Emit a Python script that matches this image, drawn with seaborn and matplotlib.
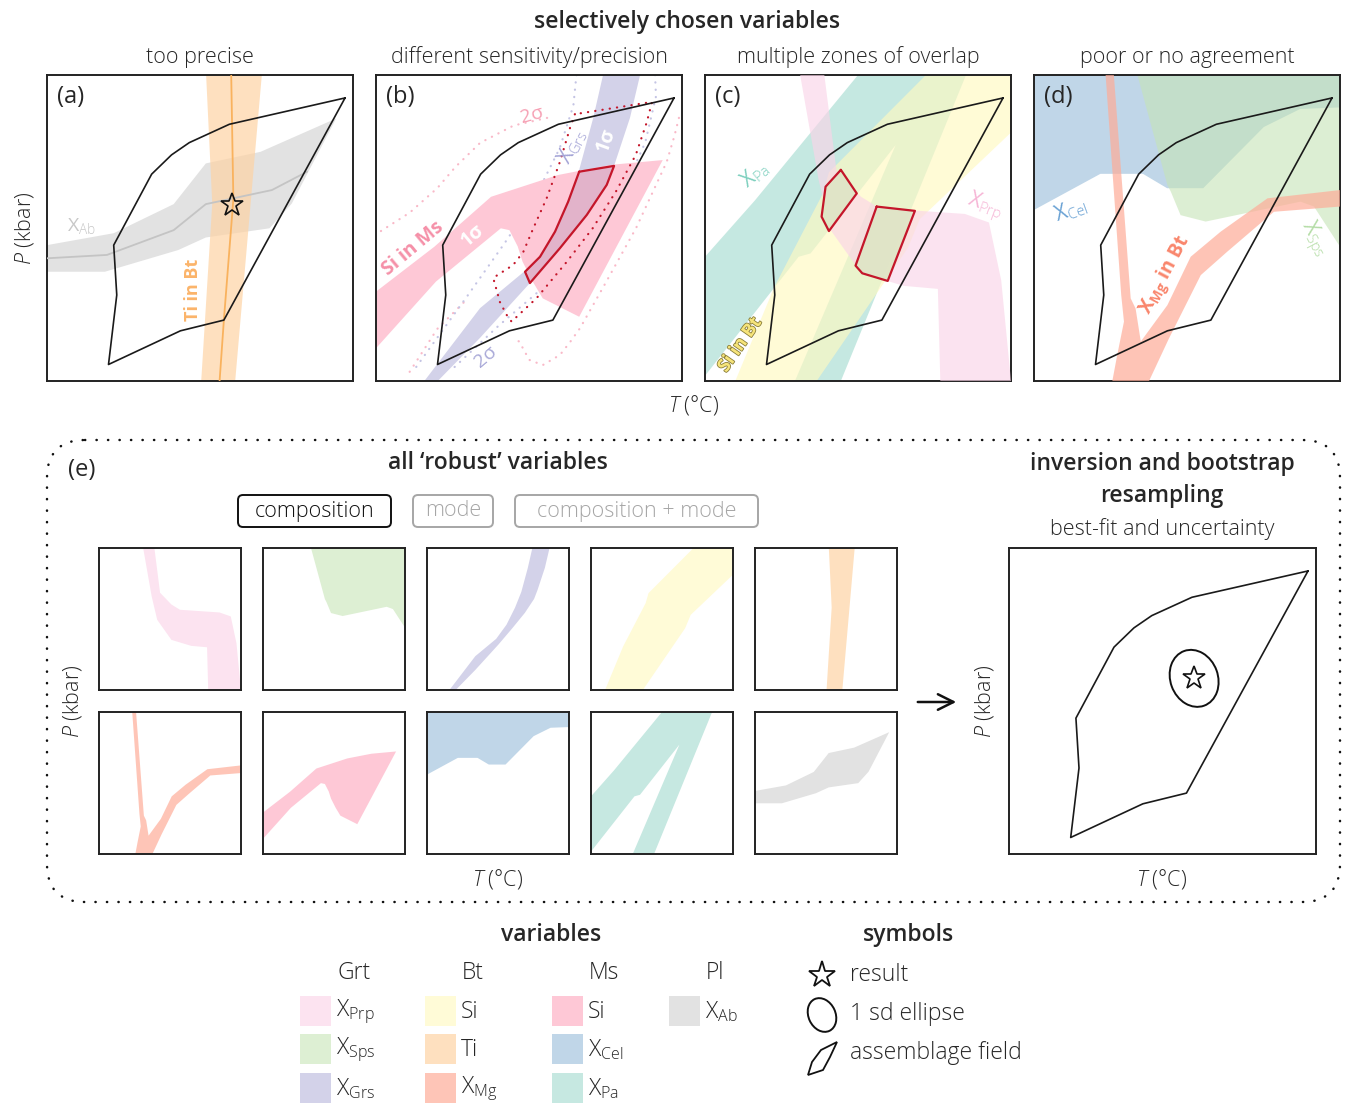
import matplotlib
matplotlib.use("Agg")
import matplotlib.pyplot as plt
import matplotlib.patheffects as pe
from matplotlib.colors import to_rgb
from matplotlib.patches import FancyBboxPatch, Ellipse, Rectangle
import seaborn as sns

sns.set_theme(style="white")
plt.rcParams["font.family"] = ["Open Sans", "DejaVu Sans"]
plt.rcParams["font.weight"] = "light"
plt.rcParams["mathtext.fontset"] = "custom"
plt.rcParams["mathtext.rm"] = "Open Sans"
plt.rcParams["mathtext.it"] = "Open Sans:italic"
plt.rcParams["mathtext.bf"] = "Open Sans:bold"

# ---- colours of the variables (legend order) ----
var_names = ["X$_{\\mathrm{Prp}}$", "X$_{\\mathrm{Sps}}$", "X$_{\\mathrm{Grs}}$",
             "Si", "Ti", "X$_{\\mathrm{Mg}}$",
             "Si", "X$_{\\mathrm{Cel}}$", "X$_{\\mathrm{Pa}}$",
             "X$_{\\mathrm{Ab}}$"]
var_colors = ["#fce3f0", "#ddefd3", "#d3d2e9",
              "#fffbd7", "#fee0bf", "#fec5b7",
              "#fec8d6", "#c0d6e8", "#c6e8e1",
              "#e2e2e2"]
var_group = ["Grt", "Grt", "Grt", "Bt", "Bt", "Bt", "Ms", "Ms", "Ms", "Pl"]
groups = ["Grt", "Bt", "Ms", "Pl"]
C = dict(Prp=var_colors[0], Sps=var_colors[1], Grs=var_colors[2], SiBt=var_colors[3],
         Ti=var_colors[4], Mg=var_colors[5], SiMs=var_colors[6], Cel=var_colors[7],
         Pa=var_colors[8], Ab=var_colors[9])

# ---- shapes in normalised T (x) / P (y) units ----
field_T = [0.974, 0.596, 0.465, 0.407, 0.342, 0.218, 0.228, 0.201, 0.436, 0.578]
field_P = [0.925, 0.839, 0.779, 0.739, 0.676, 0.444, 0.281, 0.054, 0.164, 0.199]

ab_T = [0, 0.218, 0.414, 0.519, 0.698, 0.945, 0.80, 0.727, 0.519, 0.429, 0.189, 0]
ab_P = [0.444, 0.483, 0.578, 0.711, 0.749, 0.858, 0.58, 0.499, 0.469, 0.428, 0.357, 0.357]
ab_mid_T = [0, 0.196, 0.414, 0.519, 0.735, 0.850]
ab_mid_P = [0.401, 0.412, 0.493, 0.578, 0.624, 0.684]

ti_T = [0.520, 0.540, 0.504, 0.615, 0.702]
ti_P = [1.0, 0.58, 0.0, 0.0, 1.0]
ti_mid_T = [0.602, 0.609, 0.578, 0.564]
ti_mid_P = [1.0, 0.594, 0.199, 0.0]

grs_T = [0.742, 0.710, 0.664, 0.620, 0.560, 0.487, 0.340, 0.158,
         0.202, 0.340, 0.503, 0.600, 0.689, 0.754, 0.778, 0.830, 0.863]
grs_P = [1.0, 0.860, 0.690, 0.580, 0.460, 0.360, 0.238, 0.0,
         0.0, 0.141, 0.320, 0.434, 0.543, 0.641, 0.703, 0.860, 1.0]

sims_T = [0, 0.191, 0.376, 0.594, 0.763, 0.937, 0.664, 0.545, 0.512, 0.479,
          0.463, 0.436, 0.408, 0.196, 0]
sims_P = [0.292, 0.439, 0.602, 0.673, 0.706, 0.722, 0.210, 0.270, 0.325, 0.390,
          0.440, 0.493, 0.499, 0.325, 0.107]

prp_T = [0.311, 0.371, 0.410, 0.510, 0.649, 0.761, 0.769, 1.0, 0.968, 0.928,
         0.849, 0.570, 0.510, 0.430, 0.390]
prp_P = [1.0, 0.659, 0.494, 0.353, 0.311, 0.301, 0.0, 0.0, 0.329, 0.518,
         0.546, 0.565, 0.602, 0.685, 1.0]

pa_T = [0, 0, 0.163, 0.50, 0.853, 0.444, 0.294, 0.623, 0.345, 0.306]
pa_P = [0.017, 0.406, 0.59, 1.0, 1.0, 0.0, 0.0, 0.771, 0.417, 0.406]

sibt_T = [0.099, 0.226, 0.385, 0.405, 0.722, 1.0, 1.0, 0.702, 0.663, 0.446, 0.365]
sibt_P = [0.0, 0.306, 0.612, 0.682, 1.0, 1.0, 0.812, 0.529, 0.435, 0.118, 0.0]

cel_T = [0, 1, 1, 0.870, 0.751, 0.553, 0.435, 0.356, 0.217, 0]
cel_P = [1, 1, 0.894, 0.889, 0.830, 0.630, 0.630, 0.677, 0.677, 0.559]

sps_T = [0.338, 1, 1, 0.915, 0.871, 0.561, 0.479, 0.447, 0.436]
sps_P = [1, 1, 0.439, 0.570, 0.586, 0.521, 0.542, 0.619, 0.640]

mg_T = [0.234, 0.285, 0.294, 0.272, 0.256, 0.376, 0.441, 0.545, 0.632, 0.784, 1.0,
        1.0, 0.763, 0.610, 0.512, 0.436, 0.349, 0.332, 0.316, 0.261]
mg_P = [1.0, 0.281, 0.194, 0.085, 0.0, 0.0, 0.139, 0.346, 0.423, 0.553, 0.570,
        0.624, 0.597, 0.488, 0.406, 0.248, 0.129, 0.237, 0.270, 1.0]

# panel (b) overlap and 2 sigma envelopes
ovl_T = [0.664, 0.778, 0.754, 0.689, 0.601, 0.503, 0.487, 0.536, 0.585, 0.628]
ovl_P = [0.684, 0.703, 0.641, 0.543, 0.434, 0.320, 0.357, 0.406, 0.488, 0.586]
red2s_T = [0.650, 0.634, 0.601, 0.558, 0.514, 0.481, 0.448, 0.383, 0.405, 0.427,
           0.443, 0.525, 0.623, 0.708, 0.784, 0.849, 0.885, 0.902, 0.650]
red2s_P = [0.872, 0.827, 0.716, 0.598, 0.499, 0.421, 0.379, 0.337, 0.258, 0.216,
           0.194, 0.271, 0.389, 0.499, 0.619, 0.739, 0.846, 0.912, 0.872]
pink2s_up_T = [0.016, 0.11, 0.20, 0.26, 0.34, 0.45, 0.56]
pink2s_up_P = [0.49, 0.55, 0.63, 0.70, 0.778, 0.835, 0.86]
pink2s_rt_T = [0.99, 0.975, 0.95, 0.85, 0.75, 0.667, 0.634, 0.601, 0.545, 0.501, 0.468, 0.447]
pink2s_rt_P = [0.86, 0.80, 0.716, 0.50, 0.32, 0.173, 0.127, 0.085, 0.052, 0.069, 0.129, 0.139]
pink2s_ll_T = [0.11, 0.20, 0.30]
pink2s_ll_P = [0.03, 0.17, 0.27]
grs2s_l_T = [0.655, 0.645, 0.60, 0.52, 0.42, 0.30, 0.12]
grs2s_l_P = [1.0, 0.90, 0.76, 0.60, 0.45, 0.28, 0.03]
grs2s_r_T = [0.912, 0.915, 0.88, 0.80, 0.68, 0.54, 0.40, 0.24]
grs2s_r_P = [1.0, 0.93, 0.78, 0.60, 0.45, 0.30, 0.18, 0.03]

# panel (c) zones of overlap
zone1_T = [0.444, 0.496, 0.405, 0.381, 0.394]
zone1_P = [0.690, 0.613, 0.490, 0.537, 0.635]
zone2_T = [0.561, 0.686, 0.597, 0.514, 0.492]
zone2_P = [0.570, 0.556, 0.327, 0.352, 0.377]

# result and 1 sd ellipse (inversion panel)
best_T, best_P = 0.603, 0.574
ell_w, ell_h, ell_ang = 0.155, 0.19, 20

# small panels of (e), row by row
small_vars = ["Prp", "Sps", "Grs", "SiBt", "Ti", "Mg", "SiMs", "Cel", "Pa", "Ab"]
shapes = {"Prp": (prp_T, prp_P), "Sps": (sps_T, sps_P), "Grs": (grs_T, grs_P),
          "SiBt": (sibt_T, sibt_P), "Ti": (ti_T, ti_P), "Mg": (mg_T, mg_P),
          "SiMs": (sims_T, sims_P), "Cel": (cel_T, cel_P), "Pa": (pa_T, pa_P),
          "Ab": (ab_T, ab_P)}

# assemblage icon for the symbol legend (pixels)
icon_x = [808, 812, 821, 837, 830, 823]
icon_y = [1075, 1062, 1050, 1042, 1057, 1070]

W, H = 1346, 1103
fig = plt.figure(figsize=(W / 100, H / 100), dpi=100)

cax = fig.add_axes([0, 0, 1, 1])
cax.set_xlim(0, W)
cax.set_ylim(H, 0)
cax.axis("off")


def tint(c, a):
    return tuple(max(0.0, 1 - (1 - v) / a) for v in to_rgb(c))


def panel(x, y, w, h):
    ax = fig.add_axes([x / W, 1 - (y + h) / H, w / W, h / H])
    ax.set_xlim(0, 1)
    ax.set_ylim(0, 1)
    ax.set_xticks([])
    ax.set_yticks([])
    for s in ax.spines.values():
        s.set_linewidth(1.4)
        s.set_color("#222222")
    return ax


def fill(ax, key, alpha=1.0, z=1):
    t, p = shapes[key]
    ax.fill(t, p, color=tint(C[key], alpha), alpha=alpha, lw=0, zorder=z)


def outline(ax, t, p, color="#1a1a1a", lw=1.2, z=5):
    sns.lineplot(x=list(t) + [t[0]], y=list(p) + [p[0]], sort=False, estimator=None,
                 color=color, lw=lw, ax=ax, zorder=z)
    ax.set_xlabel("")
    ax.set_ylabel("")


def dots(ax, t, p, color, z=2):
    ax.plot(t, p, color=color, lw=1.6, ls=(0, (0.1, 3.2)), dash_capstyle="round", zorder=z)


def label(ax, t, p, s, color, rot=0, size=13, weight="normal", **kw):
    ax.text(t, p, s, color=color, rotation=rot, fontsize=size, fontweight=weight,
            ha="center", va="center", rotation_mode="anchor", zorder=8, **kw)


def txt(x, y, s, size=15, **kw):
    kw.setdefault("ha", "center")
    cax.text(x, y, s, fontsize=size, va="center", **kw)


# ---------------- top row ----------------
txt(687, 22, "selectively chosen variables", 16.5, fontweight="semibold")
tops = ["too precise", "different sensitivity/precision",
        "multiple zones of overlap", "poor or no agreement"]
xs = [47, 376, 705, 1034]
axs = []
for i, x0 in enumerate(xs):
    txt(x0 + 153, 57, tops[i], 15.5)
    ax = panel(x0, 75, 306, 306)
    ax.text(0.033, 0.928, "(%s)" % "abcd"[i], fontsize=17, fontweight="normal",
            va="center", zorder=9)
    axs.append(ax)
txt(25, 228, "$P$ (kbar)", 15.5, rotation=90)
txt(694, 405, "$T$ (°C)", 15.5)

# (a)
ax = axs[0]
fill(ax, "Ab", 0.7, 1)
fill(ax, "Ti", 0.7, 2)
sns.lineplot(x=ab_mid_T, y=ab_mid_P, sort=False, estimator=None, color="#c4c4c4", lw=1.3, ax=ax, zorder=3)
sns.lineplot(x=ti_mid_T, y=ti_mid_P, sort=False, estimator=None, color="#f9b25e", lw=1.3, ax=ax, zorder=3)
outline(ax, field_T, field_P)
ax.plot(best_T, best_P, marker="*", ms=17, mfc="none", mec="#111111", mew=1.2, zorder=6)
label(ax, 0.114, 0.505, "X$_{\\mathrm{Ab}}$", "#c8c8c8", 0, 14)
label(ax, 0.477, 0.297, "Ti in Bt", "#fbb46a", 90, 13, "bold")

# (b)
ax = axs[1]
dots(ax, pink2s_up_T, pink2s_up_P, "#f9b9c8", 0.5)
dots(ax, pink2s_rt_T, pink2s_rt_P, "#f9b9c8", 0.5)
dots(ax, pink2s_ll_T, pink2s_ll_P, "#f9b9c8", 0.5)
dots(ax, grs2s_l_T, grs2s_l_P, "#c4c4e4", 0.5)
dots(ax, grs2s_r_T, grs2s_r_P, "#c4c4e4", 0.5)
fill(ax, "Grs", 1.0, 1)
fill(ax, "SiMs", 1.0, 2)
ax.fill(ovl_T, ovl_P, color="#e2b3ca", lw=0, zorder=3)
outline(ax, ovl_T, ovl_P, color="#c4162a", lw=1.6, z=4)
dots(ax, red2s_T, red2s_P, "#c4162a", 4)
outline(ax, field_T, field_P)
label(ax, 0.509, 0.869, "2σ", "#f6a0b4", 15, 14)
label(ax, 0.120, 0.434, "Si in Ms", "#f590a8", 40, 14, "bold")
label(ax, 0.316, 0.477, "1σ", "white", 40, 14, "bold")
label(ax, 0.643, 0.766, "X$_{\\mathrm{Grs}}$", "#a3a3d6", 62, 15)
label(ax, 0.752, 0.788, "1σ", "white", 70, 14, "bold")
label(ax, 0.359, 0.080, "2σ", "#a9a9d8", 40, 14)

# (c)
ax = axs[2]
fill(ax, "Pa", 0.65, 1)
fill(ax, "SiBt", 0.65, 2)
fill(ax, "Prp", 0.65, 3)
for zt, zp in [(zone1_T, zone1_P), (zone2_T, zone2_P)]:
    ax.fill(zt, zp, color="#dde6c3", lw=0, alpha=0.85, zorder=4)
    outline(ax, zt, zp, color="#c4162a", lw=1.6, z=5)
outline(ax, field_T, field_P)
label(ax, 0.163, 0.673, "X$_{\\mathrm{Pa}}$", "#7fd0bf", 40, 15)
label(ax, 0.915, 0.570, "X$_{\\mathrm{Prp}}$", "#f6b6d6", -20, 15)
label(ax, 0.114, 0.118, "Si in Bt", "#f6e47a", 55, 13, "bold",
      path_effects=[pe.withStroke(linewidth=1.2, foreground="#8a7e3a")])

# (d)
ax = axs[3]
fill(ax, "Cel", 1.0, 1)
fill(ax, "Sps", 0.6, 2)
fill(ax, "Mg", 0.7, 3)
outline(ax, field_T, field_P)
label(ax, 0.120, 0.559, "X$_{\\mathrm{Cel}}$", "#6aa2d4", 20, 15)
label(ax, 0.915, 0.466, "X$_{\\mathrm{Sps}}$", "#b5dda7", -62, 15)
label(ax, 0.430, 0.346, "X$_{\\mathbf{Mg}}$ in Bt", "#f9866c", 62, 14, "bold")

# ---------------- (e) ----------------
cax.add_patch(FancyBboxPatch((47, 440), 1293, 462, boxstyle="round,pad=0,rounding_size=38",
                             fc="none", ec="#111111", lw=1.8, ls=(0, (0.1, 4.5)),
                             capstyle="round"))
txt(82, 470, "(e)", 17, fontweight="normal")
txt(498, 463, "all \u2018robust\u2019 variables", 16.5, fontweight="semibold")
buttons = [("composition", 238, 153, "#111111"), ("mode", 413, 80, "#a6a6a6"),
           ("composition + mode", 515, 243, "#a6a6a6")]
for s, bx, bw, bc in buttons:
    cax.add_patch(FancyBboxPatch((bx, 495), bw, 32, boxstyle="round,pad=0,rounding_size=5",
                                 fc="none", ec=bc, lw=1.4))
    txt(bx + bw / 2, 511, s, 15.5, color=bc)

col_x = [99, 263, 427, 591, 755]
row_y = [548, 712]
for k, key in enumerate(small_vars):
    ax = panel(col_x[k % 5], row_y[k // 5], 142, 142)
    fill(ax, key, 1.0, 1)
txt(72, 701, "$P$ (kbar)", 15.5, rotation=90)
txt(498, 879, "$T$ (°C)", 15.5)
cax.annotate("", xy=(959, 702), xytext=(915, 702),
             arrowprops=dict(arrowstyle="->", lw=1.8, color="#111111", mutation_scale=28))

txt(1162, 464, "inversion and bootstrap", 16.5, fontweight="semibold")
txt(1162, 496, "resampling", 16.5, fontweight="semibold")
txt(1162, 529, "best-fit and uncertainty", 15.5)
ax = panel(1009, 548, 307, 306)
outline(ax, field_T, field_P)
ax.add_patch(Ellipse((best_T, best_P), ell_w, ell_h, angle=ell_ang, fc="none",
                     ec="#111111", lw=1.4, zorder=6))
ax.plot(best_T, best_P, marker="*", ms=17, mfc="none", mec="#111111", mew=1.2, zorder=6)
txt(984, 701, "$P$ (kbar)", 15.5, rotation=90)
txt(1162, 879, "$T$ (°C)", 15.5)

# ---------------- legends ----------------
txt(551, 935, "variables", 16.5, fontweight="semibold")
txt(908, 935, "symbols", 16.5, fontweight="semibold")
gx = {"Grt": 300, "Bt": 425, "Ms": 552, "Pl": 669}
hx = {"Grt": 354, "Bt": 473, "Ms": 604, "Pl": 715}
for g in groups:
    txt(hx[g], 973, g, 16.5)
row_top = [996, 1034, 1073]
count = {g: 0 for g in groups}
for name, col, g in zip(var_names, var_colors, var_group):
    r = count[g]
    count[g] += 1
    cax.add_patch(Rectangle((gx[g], row_top[r]), 31, 30, color=col, lw=0))
    txt(gx[g] + 36, row_top[r] + 16, name, 16.5, ha="left")

cax.plot(822, 975, marker="*", ms=20, mfc="none", mec="#111111", mew=1.3)
txt(850, 975, "result", 16.5, ha="left")
cax.add_patch(Ellipse((822, 1015), 27, 35, angle=-25, fc="none", ec="#111111", lw=1.4))
txt(850, 1014, "1 sd ellipse", 16.5, ha="left")
cax.fill(icon_x, icon_y, fc="none", ec="#111111", lw=1.3)
txt(850, 1053, "assemblage field", 16.5, ha="left")

fig.savefig("out.png", dpi=100)
